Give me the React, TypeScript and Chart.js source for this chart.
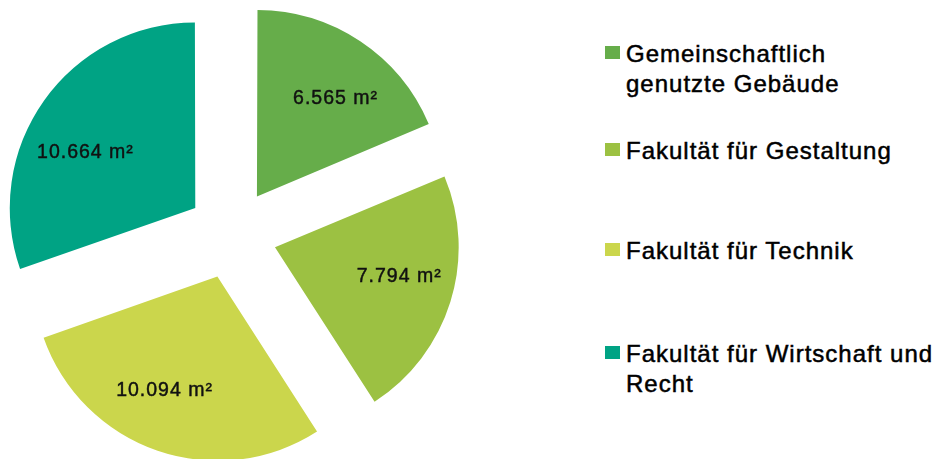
import { useEffect, useRef } from "react";
import { Chart, registerables } from "chart.js";

Chart.register(...registerables);

// ---- data ----
const CATEGORIES: string[][] = [
  ["Gemeinschaftlich", "genutzte Gebäude"],
  ["Fakultät für Gestaltung"],
  ["Fakultät für Technik"],
  ["Fakultät für Wirtschaft und", "Recht"],
];
const AREAS_M2 = [6565, 7794, 10094, 10664];
const UNIT = "m²";

// ---- styles ----
const COLORS = ["#66AD4A", "#9CC142", "#CBD64C", "#00A384"];
const LABEL_NUDGE_DEG = [4, -4.5, 7, -8.5];
const LEGEND_TOPS = [39, 136, 236, 339];
const FONT_FAMILY = "'Liberation Sans', Arial, Helvetica, sans-serif";
const SLICE_OFFSET = 180;

const fmt = (v: number) =>
  String(v).replace(/\B(?=(\d{3})+(?!\d))/g, ".") + " " + UNIT;

const sliceLabels = {
  id: "sliceLabels",
  afterDatasetsDraw(chart: any) {
    const ctx = chart.ctx as CanvasRenderingContext2D;
    const meta = chart.getDatasetMeta(0);
    const ds = chart.data.datasets[0];
    const trans = (ds.offset || 0) / 4; // translation applied by ArcElement.draw
    const fs = 19.5;
    ctx.save();
    ctx.font = `${fs}px ${FONT_FAMILY}`;
    (ctx as any).letterSpacing = "1px";
    ctx.fillStyle = "#111111";
    ctx.strokeStyle = "#111111";
    ctx.lineWidth = 0.45;
    ctx.textAlign = "center";
    ctx.textBaseline = "alphabetic";
    meta.data.forEach((arc: any, i: number) => {
      const { x, y, startAngle, endAngle, outerRadius } = arc.getProps(
        ["x", "y", "startAngle", "endAngle", "outerRadius"],
        true
      );
      const mid = (startAngle + endAngle) / 2;
      const ax = x + Math.cos(mid) * trans;
      const ay = y + Math.sin(mid) * trans;
      const a = mid + (LABEL_NUDGE_DEG[i] * Math.PI) / 180;
      const d = outerRadius * 0.685;
      const px = ax + Math.cos(a) * d + 2;
      const py = ay + Math.sin(a) * d;
      const t = fmt(ds.data[i]);
      ctx.fillText(t, px, py + fs * 0.358);
      ctx.strokeText(t, px, py + fs * 0.358);
    });
    ctx.restore();
  },
};

export default function App() {
  const ref = useRef<HTMLCanvasElement>(null);

  useEffect(() => {
    const chart = new Chart(ref.current!, {
      type: "pie",
      data: {
        labels: CATEGORIES.map((l) => l.join(" ")),
        datasets: [
          {
            data: AREAS_M2,
            backgroundColor: COLORS,
            borderWidth: 0,
            offset: SLICE_OFFSET,
            hoverOffset: 0,
          } as any,
        ],
      },
      options: {
        responsive: false,
        animation: false,
        radius: 183,
        events: [],
        layout: { padding: 0 },
        plugins: {
          legend: { display: false },
          tooltip: { enabled: false },
        },
      } as any,
      plugins: [sliceLabels],
    });
    return () => chart.destroy();
  }, []);

  return (
    <div
      style={{
        position: "absolute",
        left: 0,
        top: 0,
        width: 940,
        height: 459,
        overflow: "hidden",
        background: "#ffffff",
      }}
    >
      <canvas
        ref={ref}
        width={464}
        height={468}
        style={{ position: "absolute", left: 0, top: 0 }}
      />
      {CATEGORIES.map((lines, i) => (
        <div
          key={i}
          style={{
            position: "absolute",
            left: 605,
            top: LEGEND_TOPS[i],
            display: "flex",
            alignItems: "flex-start",
          }}
        >
          <span
            style={{
              display: "block",
              width: 15,
              height: 13,
              marginTop: 7,
              background: COLORS[i],
              flex: "none",
            }}
          />
          <div
            style={{
              marginLeft: 6,
              fontFamily: FONT_FAMILY,
              fontSize: 24,
              lineHeight: "30px",
              letterSpacing: 1,
              color: "#000000",
              WebkitTextStroke: "0.5px #000000",
              whiteSpace: "nowrap",
            }}
          >
            {lines.map((l, j) => (
              <div key={j}>{l}</div>
            ))}
          </div>
        </div>
      ))}
    </div>
  );
}
